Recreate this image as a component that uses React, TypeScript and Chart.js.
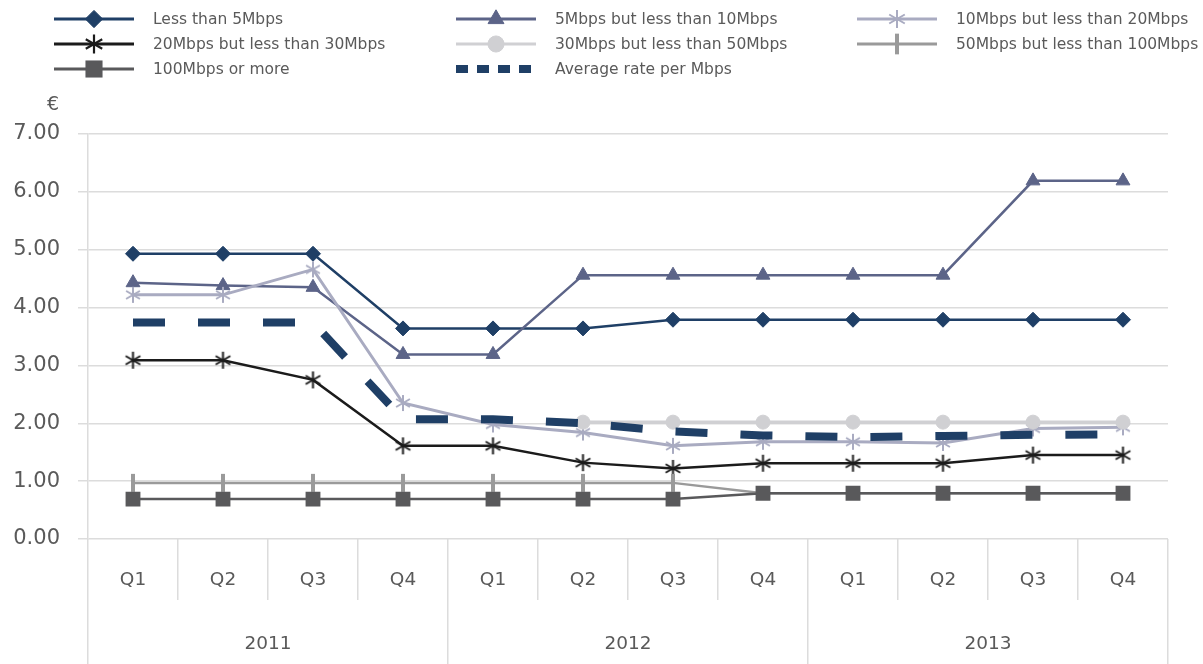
import React, { useEffect, useRef } from "react";
import { Chart, registerables } from "chart.js";
import { drawPoint } from "chart.js/helpers";

Chart.register(...registerables);

const quarters = ["Q1", "Q2", "Q3", "Q4", "Q1", "Q2", "Q3", "Q4", "Q1", "Q2", "Q3", "Q4"];
const years = ["2011", "2012", "2013"];
const yTickMin = 0;
const yTickMax = 7;
const yTickStep = 1;
const yUnit = "€";

const lessThan5 = [4.93, 4.93, 4.93, 3.64, 3.64, 3.64, 3.79, 3.79, 3.79, 3.79, 3.79, 3.79];
const from5to10 = [4.43, 4.38, 4.35, 3.19, 3.19, 4.56, 4.56, 4.56, 4.56, 4.56, 6.19, 6.19];
const from10to20 = [4.22, 4.22, 4.66, 2.35, 1.98, 1.84, 1.61, 1.68, 1.68, 1.66, 1.91, 1.93];
const from20to30 = [3.09, 3.09, 2.75, 1.61, 1.61, 1.32, 1.22, 1.31, 1.31, 1.31, 1.45, 1.45];
const from30to50 = [null, null, null, null, null, 2.02, 2.02, 2.02, 2.02, 2.02, 2.02, 2.02];
const from50to100 = [0.97, 0.97, 0.97, 0.97, 0.97, 0.97, 0.97, 0.79, 0.79, 0.79, 0.79, 0.79];
const over100 = [0.69, 0.69, 0.69, 0.69, 0.69, 0.69, 0.69, 0.79, 0.79, 0.79, 0.79, 0.79];
const averageRate = [3.74, 3.74, 3.74, 2.07, 2.07, 2.0, 1.86, 1.79, 1.76, 1.78, 1.8, 1.81];

const seriesNames = [
  "Less than 5Mbps",
  "5Mbps but less than 10Mbps",
  "10Mbps but less than 20Mbps",
  "20Mbps but less than 30Mbps",
  "30Mbps but less than 50Mbps",
  "50Mbps but less than 100Mbps",
  "100Mbps or more",
  "Average rate per Mbps",
];

const FONT = '"DejaVu Sans", sans-serif';
const TEXT = "#5a5a5a";
const GRID = "#dcdcdc";

const LEGEND_COL_X = [54, 456, 857];
const LEGEND_ROW_Y = [19, 44, 69];

const NAVY = "#1f3f66";
const SLATE = "#5c6488";
const LAVENDER = "#a9abc1";
const BLACK = "#1b1b1b";
const LIGHTGREY = "#d0d0d3";
const MIDGREY = "#9a9a9a";
const DARKGREY = "#59595b";

function makeAsterisk(color: string, r: number, lw: number) {
  const size = Math.ceil(2 * r + lw + 2);
  const c = document.createElement("canvas");
  c.width = size;
  c.height = size;
  const ctx = c.getContext("2d")!;
  const cx = size / 2;
  const cy = size / 2;
  ctx.strokeStyle = color;
  ctx.lineWidth = lw;
  ctx.lineCap = "butt";
  ctx.beginPath();
  for (let k = 0; k < 3; k++) {
    const a = Math.PI / 2 + (k * Math.PI) / 3;
    const dx = Math.cos(a) * r;
    const dy = Math.sin(a) * r;
    ctx.moveTo(cx - dx, cy - dy);
    ctx.lineTo(cx + dx, cy + dy);
  }
  ctx.stroke();
  return c;
}

const legendPlugin = {
  id: "customLegend",
  afterDraw(chart: any) {
    const ctx: CanvasRenderingContext2D = chart.ctx;
    ctx.save();
    chart.data.datasets.forEach((ds: any, i: number) => {
      const col = i % 3;
      const row = Math.floor(i / 3);
      const x0 = LEGEND_COL_X[col];
      const y = LEGEND_ROW_Y[row];
      const isAvg = !!ds.borderDash && ds.borderDash.length;
      ctx.save();
      ctx.strokeStyle = ds.borderColor;
      ctx.lineCap = "butt";
      if (isAvg) {
        ctx.lineWidth = 8;
        ctx.setLineDash([12, 9]);
        ctx.beginPath();
        ctx.moveTo(x0, y);
        ctx.lineTo(x0 + 84, y);
        ctx.stroke();
      } else {
        ctx.lineWidth = 3;
        ctx.setLineDash([]);
        ctx.beginPath();
        ctx.moveTo(x0, y);
        ctx.lineTo(x0 + 80, y);
        ctx.stroke();
        const style = ds.legendPointStyle || ds.pointStyle;
        const r = Array.isArray(ds.pointRadius) ? ds.pointRadius[0] : ds.pointRadius;
        ctx.strokeStyle = ds.pointBorderColor || ds.borderColor;
        ctx.fillStyle = ds.pointBackgroundColor || ds.borderColor;
        ctx.lineWidth = ds.pointBorderWidth;
        drawPoint(
          ctx,
          {
            pointStyle: style,
            rotation: ds.pointRotation || 0,
            radius: r * 1.15,
            borderWidth: ds.pointBorderWidth,
          } as any,
          x0 + 40,
          y
        );
      }
      ctx.restore();
      ctx.fillStyle = TEXT;
      ctx.font = `15.5px ${FONT}`;
      ctx.textAlign = "left";
      ctx.textBaseline = "middle";
      ctx.fillText(ds.label, x0 + 99, y + 1);
    });
    ctx.fillStyle = TEXT;
    ctx.font = `19px ${FONT}`;
    ctx.textAlign = "center";
    ctx.textBaseline = "middle";
    ctx.fillText(yUnit, 53, 105);
    ctx.restore();
  },
};

export default function App() {
  const ref = useRef<HTMLCanvasElement | null>(null);

  useEffect(() => {
    if (!ref.current) return;
    const n = seriesNames.length;
    const starLight = makeAsterisk(LAVENDER, 8, 2);
    const starLightLegend = makeAsterisk(LAVENDER, 9, 2);
    const starDark = makeAsterisk(BLACK, 8.5, 2);
    const starDarkLegend = makeAsterisk(BLACK, 9.5, 2.2);
    const datasets: any[] = [
      {
        label: seriesNames[0],
        data: lessThan5,
        borderColor: NAVY,
        backgroundColor: NAVY,
        borderWidth: 2.5,
        pointStyle: "rectRot",
        pointRadius: 7.5,
        pointBorderWidth: 1,
      },
      {
        label: seriesNames[1],
        data: from5to10,
        borderColor: SLATE,
        backgroundColor: SLATE,
        borderWidth: 2.5,
        pointStyle: "triangle",
        pointRadius: 8,
        pointBorderWidth: 1,
      },
      {
        label: seriesNames[2],
        data: from10to20,
        borderColor: LAVENDER,
        backgroundColor: LAVENDER,
        borderWidth: 3,
        pointStyle: starLight,
        legendPointStyle: starLightLegend,
        pointRadius: 8,
        pointBorderWidth: 2,
      },
      {
        label: seriesNames[3],
        data: from20to30,
        borderColor: BLACK,
        backgroundColor: BLACK,
        borderWidth: 2.5,
        pointStyle: starDark,
        legendPointStyle: starDarkLegend,
        pointRadius: 8,
        pointBorderWidth: 2,
      },
      {
        label: seriesNames[4],
        data: from30to50,
        borderColor: LIGHTGREY,
        backgroundColor: LIGHTGREY,
        borderWidth: 3.5,
        pointStyle: "circle",
        pointRadius: 7,
        pointBorderWidth: 1,
      },
      {
        label: seriesNames[5],
        data: from50to100,
        borderColor: MIDGREY,
        backgroundColor: MIDGREY,
        borderWidth: 2.5,
        pointStyle: "line",
        pointRotation: 90,
        pointRadius: from50to100.map((_, i) => (i < 7 ? 9 : 0)),
        pointBorderWidth: 4,
      },
      {
        label: seriesNames[6],
        data: over100,
        borderColor: DARKGREY,
        backgroundColor: DARKGREY,
        borderWidth: 2.5,
        pointStyle: "rect",
        pointRadius: 10.5,
        pointBorderWidth: 0,
      },
      {
        label: seriesNames[7],
        data: averageRate,
        borderColor: NAVY,
        backgroundColor: NAVY,
        borderWidth: 8,
        borderDash: [32, 33],
        borderCapStyle: "butt",
        pointRadius: 0,
        pointBorderWidth: 0,
      },
    ];
    datasets.forEach((d, i) => {
      d.order = n - i;
      d.tension = 0;
      d.fill = false;
      d.spanGaps = false;
      d.pointBorderColor = d.borderColor;
      d.pointBackgroundColor = d.backgroundColor;
      d.pointHoverRadius = d.pointRadius;
    });

    const chart = new Chart(ref.current, {
      type: "line",
      data: { labels: quarters, datasets },
      plugins: [legendPlugin],
      options: {
        animation: false,
        responsive: true,
        maintainAspectRatio: false,
        layout: { padding: { top: 134, right: 35, left: 0, bottom: 0 } },
        plugins: {
          legend: { display: false },
          tooltip: { enabled: false },
        },
        scales: {
          x: {
            type: "category",
            position: "bottom",
            offset: true,
            grid: {
              offset: true,
              drawOnChartArea: false,
              drawTicks: true,
              tickLength: 61,
              color: GRID,
              lineWidth: 1.5,
            },
            border: { display: false },
            ticks: {
              color: TEXT,
              font: { family: FONT, size: 18.5 },
              padding: -31,
              maxRotation: 0,
              autoSkip: false,
            },
            afterFit: (scale: any) => {
              scale.height = 61;
            },
          },
          years: {
            type: "category",
            position: "bottom",
            labels: years,
            offset: true,
            grid: {
              offset: true,
              drawOnChartArea: false,
              drawTicks: true,
              tickLength: 64,
              color: GRID,
              lineWidth: 1.5,
            },
            border: { display: false },
            ticks: {
              color: TEXT,
              font: { family: FONT, size: 18.5 },
              padding: -31,
              maxRotation: 0,
              autoSkip: false,
            },
            afterFit: (scale: any) => {
              scale.height = 64;
            },
          },
          y: {
            min: yTickMin,
            max: yTickMax,
            ticks: {
              stepSize: yTickStep,
              color: TEXT,
              font: { family: FONT, size: 21 },
              padding: 18,
              callback: (v: any) => Number(v).toFixed(2),
            },
            grid: {
              color: GRID,
              lineWidth: 1.5,
              tickLength: 10,
              drawTicks: true,
            },
            border: { display: true, color: GRID, width: 1.5 },
            afterFit: (scale: any) => {
              scale.width = 88;
            },
          },
        },
      } as any,
    });
    return () => chart.destroy();
  }, []);

  return (
    <div style={{ position: "absolute", left: 0, top: 0, width: 1203, height: 664, background: "#fff" }}>
      <canvas ref={ref} />
    </div>
  );
}
